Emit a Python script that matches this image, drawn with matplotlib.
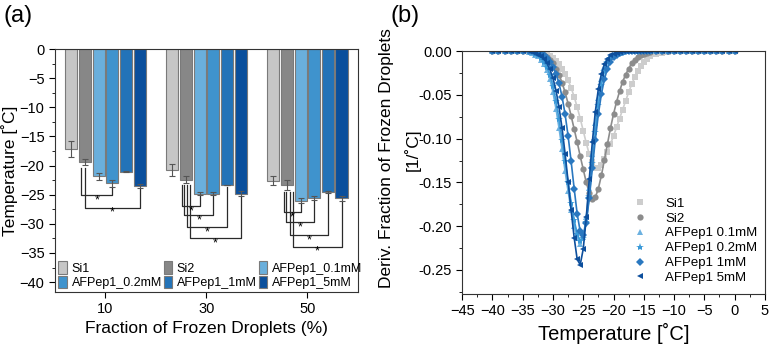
import numpy as np
import matplotlib
matplotlib.use("Agg")
import matplotlib.pyplot as plt
from matplotlib.ticker import MultipleLocator, FormatStrFormatter
from matplotlib.lines import Line2D

plt.rcParams['font.family'] = ['Liberation Sans', 'DejaVu Sans']
plt.rcParams['axes.unicode_minus'] = True

# ---------------- panel (a) data ----------------
fractions = ['10', '30', '50']
group_pos = [10, 30, 50]
samples = ['Si1', 'Si2', 'AFPep1_0.1mM', 'AFPep1_0.2mM', 'AFPep1_1mM', 'AFPep1_5mM']
temp_10 = [-17.1, -19.4, -21.8, -23.0, -21.05, -23.5]
temp_30 = [-20.8, -22.4, -24.8, -24.8, -23.35, -24.8]
temp_50 = [-22.6, -23.4, -26.0, -25.6, -24.55, -25.6]
err_10 = [1.4, 0.5, 0.6, 0.6, 0.1, 0.3]
err_30 = [1.0, 0.65, 0.3, 0.3, 0.05, 0.4]
err_50 = [0.8, 0.85, 0.4, 0.35, 0.2, 0.4]

# ---------------- panel (b) data ----------------
temp_b = [-40, -39, -38, -37, -36, -35, -34,
          -33.5, -33, -32.5, -32, -31.5, -31, -30.5, -30, -29.5, -29,
          -28.5, -28, -27.5, -27, -26.5, -26, -25.5, -25, -24.5, -24,
          -23.5, -23, -22.5, -22, -21.5, -21, -20.5, -20, -19.5, -19,
          -18.5, -18, -17.5, -17, -16.5, -16, -15.5, -15, -14.5, -14,
          -13, -12, -11, -10, -9, -8, -7, -6, -5, -4, -3, -2, -1, 0]
d_si1 = [0, 0, 0, 0, 0, 0, 0,
         0, 0, -0.001, -0.002, -0.003, -0.004, -0.006, -0.008, -0.011, -0.015,
         -0.020, -0.026, -0.033, -0.042, -0.052, -0.064, -0.077, -0.091, -0.105, -0.118,
         -0.127, -0.133, -0.134, -0.130, -0.123, -0.115, -0.106, -0.097, -0.087, -0.077,
         -0.067, -0.057, -0.047, -0.038, -0.030, -0.023, -0.017, -0.012, -0.009, -0.006,
         -0.003, -0.002, -0.001, 0, 0, 0, 0, 0, 0, 0, 0, 0, 0, 0]
d_si2 = [0, 0, 0, 0, 0, 0, 0,
         0, -0.001, -0.002, -0.003, -0.005, -0.007, -0.010, -0.014, -0.020, -0.027,
         -0.036, -0.047, -0.060, -0.074, -0.089, -0.104, -0.120, -0.135, -0.150, -0.162,
         -0.169, -0.167, -0.157, -0.142, -0.124, -0.106, -0.088, -0.072, -0.058, -0.046,
         -0.035, -0.027, -0.020, -0.014, -0.010, -0.007, -0.005, -0.003, -0.002, -0.001,
         0, 0, 0, 0, 0, 0, 0, 0, 0, 0, 0, 0, 0, 0]
d_01 = [0, 0, 0, 0, 0, 0, -0.001,
        -0.002, -0.004, -0.006, -0.010, -0.015, -0.022, -0.032, -0.047, -0.066, -0.088,
        -0.112, -0.137, -0.160, -0.182, -0.200, -0.214, -0.220, -0.212, -0.190, -0.156,
        -0.118, -0.082, -0.053, -0.032, -0.018, -0.010, -0.006, -0.004, -0.003, -0.002,
        -0.001, 0, 0, 0, 0, 0, 0, 0, 0, 0,
        0, 0, 0, 0, 0, 0, 0, 0, 0, 0, 0, 0, 0, 0]
d_02 = [0, 0, 0, 0, 0, 0, 0,
        -0.001, -0.003, -0.005, -0.008, -0.012, -0.018, -0.027, -0.040, -0.057, -0.078,
        -0.101, -0.126, -0.150, -0.173, -0.193, -0.209, -0.217, -0.213, -0.195, -0.165,
        -0.128, -0.092, -0.062, -0.039, -0.023, -0.013, -0.008, -0.005, -0.003, -0.002,
        -0.001, 0, 0, 0, 0, 0, 0, 0, 0, 0,
        0, 0, 0, 0, 0, 0, 0, 0, 0, 0, 0, 0, 0, 0]
d_1 = [0, 0, 0, 0, 0, 0, 0,
       0, -0.001, -0.002, -0.003, -0.005, -0.008, -0.012, -0.018, -0.026, -0.037,
       -0.052, -0.072, -0.097, -0.126, -0.157, -0.186, -0.206, -0.210, -0.196, -0.168,
       -0.134, -0.101, -0.072, -0.049, -0.032, -0.020, -0.012, -0.007, -0.004, -0.002,
       -0.001, 0, 0, 0, 0, 0, 0, 0, 0, 0,
       0, 0, 0, 0, 0, 0, 0, 0, 0, 0, 0, 0, 0, 0]
d_5 = [0, 0, 0, 0, 0, 0, 0,
       -0.001, -0.002, -0.004, -0.006, -0.009, -0.014, -0.021, -0.031, -0.045, -0.064,
       -0.088, -0.117, -0.149, -0.182, -0.213, -0.238, -0.244, -0.226, -0.190, -0.146,
       -0.104, -0.069, -0.043, -0.026, -0.015, -0.009, -0.005, -0.003, -0.002, -0.001,
       0, 0, 0, 0, 0, 0, 0, 0, 0, 0,
       0, 0, 0, 0, 0, 0, 0, 0, 0, 0, 0, 0, 0, 0]
labels_b = ['Si1', 'Si2', 'AFPep1 0.1mM', 'AFPep1 0.2mM', 'AFPep1 1mM', 'AFPep1 5mM']

bar_colors = ['#c6c6c6', '#878787', '#6aafdc', '#3f93cd', '#2373b8', '#0a4f9c']
line_colors = ['#cdcdcd', '#8c8c8c', '#6cb1e0', '#3b9ad8', '#2a78c0', '#0d4f9d']
markers = ['s', 'o', '^', '*', 'D', '<']

fig = plt.figure(figsize=(7.69, 3.47), dpi=100)

# ================= (a) =================
ax0 = fig.add_axes([0.0715, 0.1585, 0.394, 0.700])
offsets = [(k - 2.5) * 2.7 for k in range(6)]
temps = np.array([temp_10, temp_30, temp_50])
errs = np.array([err_10, err_30, err_50])
bars = []
for k in range(6):
    xs = [g + offsets[k] for g in group_pos]
    b = ax0.bar(xs, temps[:, k], width=2.4, color=bar_colors[k],
                edgecolor='#7a7a7a', linewidth=0.8, label=samples[k], zorder=2)
    ax0.errorbar(xs, temps[:, k], yerr=errs[:, k], fmt='none', ecolor='#555555',
                 elinewidth=0.8, capsize=2.5, capthick=0.8, zorder=3)
    bars.append(b)

# significance brackets: (group, left dx, bar idx, left top, bottom, right top)
brackets = [
    (10, -4.8, 3, -20.4, -25.1, -23.7),
    (10, -4.1, 5, -20.4, -27.2, -24.0),
    (30, -4.8, 2, -23.3, -26.9, -25.2),
    (30, -4.4, 3, -23.3, -28.5, -25.2),
    (30, -3.8, 4, -23.3, -30.6, -23.7),
    (30, -3.2, 5, -23.3, -32.4, -25.4),
    (50, -4.6, 2, -24.6, -28.0, -26.6),
    (50, -4.2, 3, -24.6, -29.7, -26.1),
    (50, -3.5, 4, -24.6, -32.0, -24.9),
    (50, -2.8, 5, -24.6, -33.9, -26.1),
]
for g, dx, idx, ytl, ybot, ytr in brackets:
    xl = g + dx
    xr = g + offsets[idx]
    ax0.plot([xl, xl, xr, xr], [ytl, ybot, ybot, ytr], color='#2a2a2a', lw=0.9, zorder=1)
    ax0.text((xl + xr) / 2, ybot - 0.9, '*', ha='center', va='center', fontsize=9)

ax0.set_xlim(0, 60)
ax0.set_ylim(-41.7, 0)
ax0.set_xticks(group_pos)
ax0.set_xticklabels(fractions)
ax0.yaxis.set_major_locator(MultipleLocator(5))
ax0.yaxis.set_minor_locator(MultipleLocator(2.5))
ax0.tick_params(axis='both', labelsize=10.5, length=4, width=0.8)
ax0.tick_params(axis='y', which='minor', length=2.5)
ax0.set_ylabel('Temperature [˚C]', fontsize=12.5, labelpad=1)
ax0.set_xlabel('Fraction of Frozen Droplets (%)', fontsize=12.5, labelpad=3)
for s in ax0.spines.values():
    s.set_color('#333333')
order = [0, 3, 1, 4, 2, 5]
ax0.legend([bars[i] for i in order], [samples[i] for i in order], ncol=3,
           loc='lower left', bbox_to_anchor=(-0.005, -0.01), frameon=False,
           fontsize=9, handlelength=0.7, handleheight=1.15, handletextpad=0.35,
           columnspacing=0.15, labelspacing=0.1, borderaxespad=0.2,
           borderpad=0.2)
fig.text(0.005, 0.955, '(a)', fontsize=17, va='center', ha='left')

# ================= (b) =================
ax1 = fig.add_axes([0.601, 0.1527, 0.3936, 0.700])
series_b = [d_si1, d_si2, d_01, d_02, d_1, d_5]
handles = []
for k in range(6):
    ms = 6 if markers[k] == '*' else 4.5
    ax1.plot(temp_b, series_b[k], color=line_colors[k], marker=markers[k],
             markersize=ms, lw=1.2, markeredgewidth=0)
    handles.append(Line2D([], [], color=line_colors[k], marker=markers[k],
                          linestyle='none', markersize=ms, markeredgewidth=0))
ax1.set_xlim(-45, 5)
ax1.set_ylim(-0.2775, 0)
ax1.xaxis.set_major_locator(MultipleLocator(5))
ax1.xaxis.set_minor_locator(MultipleLocator(2.5))
ax1.yaxis.set_major_locator(MultipleLocator(0.05))
ax1.yaxis.set_minor_locator(MultipleLocator(0.025))
ax1.yaxis.set_major_formatter(FormatStrFormatter('%.2f'))
ax1.tick_params(axis='both', labelsize=10.5, length=4, width=0.8)
ax1.tick_params(which='minor', length=2.5)
ax1.set_xlabel('Temperature [˚C]', fontsize=14.5, labelpad=3)
for s in ax1.spines.values():
    s.set_color('#333333')
ax1.legend(handles, labels_b, loc='lower right', bbox_to_anchor=(0.985, 0.03),
           frameon=False, fontsize=9.5, handlelength=1.0, handletextpad=1.4,
           labelspacing=0.2, borderaxespad=0.0, borderpad=0.2)
fig.text(386 / 769, 1 - 158 / 347, 'Deriv. Fraction of Frozen Droplets', rotation=90,
         fontsize=12.5, ha='center', va='center')
fig.text(412 / 769, 1 - 150 / 347, '[1/˚C]', rotation=90,
         fontsize=12.5, ha='center', va='center')
fig.text(390 / 769, 0.955, '(b)', fontsize=17, va='center', ha='left')

fig.savefig('out.png', dpi=100)
